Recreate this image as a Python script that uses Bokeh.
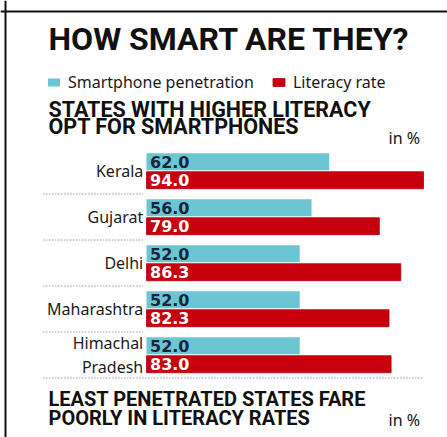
from bokeh.plotting import figure
from bokeh.models import ColumnDataSource, Range1d, Label, Span, Legend, LegendItem
from bokeh.transform import dodge
from bokeh.core.properties import value
from bokeh.embed import file_html
from bokeh.resources import INLINE

states = ["Kerala", "Gujarat", "Delhi", "Maharashtra", "Himachal\nPradesh"]
smartphone = [62.0, 56.0, 52.0, 52.0, 52.0]
literacy = [94.0, 79.0, 86.3, 82.3, 83.0]

CYAN = "#6cc5d2"
RED = "#c8000d"
HEAD_FONT = "Roboto"
BODY_FONT = "Noto Sans"

idx = list(range(len(states)))
src = ColumnDataSource(dict(
    y=idx, state=states, smart=smartphone, lit=literacy,
    smart_lbl=[f"{v:.1f}" for v in smartphone],
    lit_lbl=[f"{v:.1f}" for v in literacy],
))

W, H = 447, 437
p = figure(width=W, height=H, output_backend="svg", toolbar_location=None,
           x_range=Range1d(-49.54, 102.14), y_range=Range1d(5.793, -3.707),
           min_border=0, outline_line_color=None, background_fill_color="white",
           border_fill_color="white")
p.axis.visible = False
p.grid.visible = False

r_smart = p.hbar(y=dodge("y", -0.2, range=p.y_range), left=0, right="smart", height=0.37,
                 source=src, fill_color=CYAN, line_color=None)
r_lit = p.hbar(y=dodge("y", 0.2, range=p.y_range), left=0, right="lit", height=0.37,
               source=src, fill_color=RED, line_color="#b0000a", line_width=0.8)

p.text(x=1.2, y=dodge("y", -0.2, range=p.y_range), text="smart_lbl", source=src,
       text_font=value("DejaVu Sans"), text_font_style="bold", text_font_size="16px",
       text_color="#17263a", text_baseline="middle", text_align="left")
p.text(x=1.2, y=dodge("y", 0.2, range=p.y_range), text="lit_lbl", source=src,
       text_font=value("DejaVu Sans"), text_font_style="bold", text_font_size="16px",
       text_color="white", text_baseline="middle", text_align="left")
p.text(x=-1.1, y="y", text="state", source=src,
       text_font=value(BODY_FONT), text_font_size="16px", text_color="#1a1a1a",
       text_baseline="middle", text_align="right", text_line_height=1.1)

# dotted separators between groups
sep_y = [i + 0.5 for i in idx[:-1]]
p.segment(x0=-35, x1=-1.2, y0=sep_y, y1=sep_y, line_color="#666666",
          line_dash="1 2", line_width=1)
p.segment(x0=[-35], x1=[94], y0=[idx[-1] + 0.5], y1=[idx[-1] + 0.5],
          line_color="#666666", line_dash="1 2", line_width=1)

# frame border lines
p.add_layout(Span(location=5, location_units="screen", dimension="height",
                  line_color="#111111", line_width=2))
p.add_layout(Span(location=426, location_units="screen", dimension="width",
                  line_color="#111111", line_width=2))

def lab(txt, sx, sy, size, bold=True, font=HEAD_FONT, color="#111111"):
    p.add_layout(Label(x=sx, y=sy, x_units="screen", y_units="screen", text=txt,
                       text_font=font, text_font_size=size,
                       text_font_style="bold" if bold else "normal",
                       text_color=color, text_baseline="alphabetic", text_align="left"))

lab("HOW SMART ARE THEY?", 48, 399, "32px")
lab("STATES WITH HIGHER LITERACY", 48, 328, "21.5px")
lab("OPT FOR SMARTPHONES", 48, 311, "21.5px")
lab("in %", 388, 300, "16px", bold=False, font=BODY_FONT)
lab("LEAST PENETRATED STATES FARE", 48, 39, "20px")
lab("POORLY IN LITERACY RATES", 48, 20, "20px")
lab("in %", 388, 18, "16px", bold=False, font=BODY_FONT)

legend = Legend(items=[LegendItem(label="Smartphone penetration", renderers=[r_smart]),
                       LegendItem(label="Literacy rate", renderers=[r_lit])],
                orientation="horizontal", location=(46, 344),
                border_line_color=None, background_fill_alpha=0,
                padding=0, margin=0, spacing=17, label_standoff=7,
                glyph_width=15, glyph_height=10, label_height=14,
                label_text_font=BODY_FONT, label_text_font_size="16px",
                label_text_color="#1a1a1a")
p.add_layout(legend, "center")

open("out.html", "w").write(file_html(p, INLINE))
